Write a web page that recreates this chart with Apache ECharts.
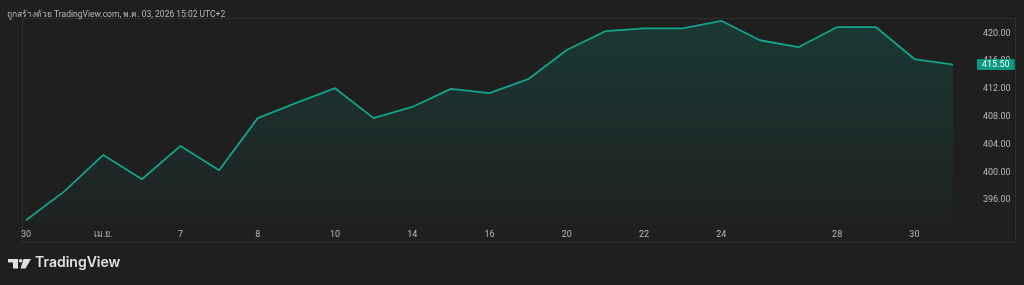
<!DOCTYPE html>
<html>
<head>
<meta charset="UTF-8">
<title>TradingView area</title>
<script type="text/javascript" src="https://cdn.jsdelivr.net/npm/echarts@6/dist/echarts.min.js"></script>
<style>
html,body{margin:0;padding:0;background:#1f1f1f;}
</style>
</head>
<body>
<div id="box" style="width:1024px;height:285px;"></div>

<script type="text/javascript">
// categories (only some carry a label, as on the original time axis)
var categories = ['30','','เม.ย.','','7','','8','','10','','14','','16','','20','','22','','24','','','28','','30',''];
// closing prices
var prices = [393.1,397.3,402.5,399.0,403.8,400.3,407.8,410.0,412.1,407.8,409.4,412.0,411.4,413.4,417.6,420.3,420.7,420.7,421.8,419.0,418.0,420.9,420.9,416.3,415.5];
// price scale labels
var priceTicks = [396,400,404,408,412,416,420];

var fontFam = 'Roboto, "Noto Sans", "DejaVu Sans", sans-serif';

var mychart = echarts.init(document.getElementById('box'));

mychart.setOption({
    backgroundColor:'#1f1f1f',
    animation:false,
    title:{
        text:'ถูกสร้างด้วย TradingView.com, พ.ค. 03, 2026 15:02 UTC+2',
        left:2,
        top:5,
        textStyle:{color:'#b8b8b8',fontSize:8.5,fontWeight:'normal',fontFamily:fontFam}
    },
    grid:{left:26,right:71,top:18,bottom:64},
    xAxis:{
        type:'category',
        data:categories,
        boundaryGap:false,
        axisLine:{show:false},
        axisTick:{show:false},
        splitLine:{show:false},
        axisLabel:{interval:0,color:'#b8b8b8',fontSize:9,margin:9,fontFamily:fontFam}
    },
    yAxis:{
        type:'value',
        position:'right',
        min:393,
        max:422.2,
        axisLine:{show:false},
        axisTick:{show:false},
        splitLine:{show:false},
        axisLabel:{
            customValues:priceTicks,
            color:'#b8b8b8',
            fontSize:9,
            margin:30,
            align:'left',
            fontFamily:fontFam,
            formatter:function(v){return v.toFixed(2);}
        }
    },
    series:[{
        type:'line',
        data:prices,
        symbol:'none',
        lineStyle:{color:'#12a38c',width:1.8},
        areaStyle:{
            color:new echarts.graphic.LinearGradient(0,0,0,1,[
                {offset:0,color:'rgba(8,153,129,0.3)'},
                {offset:1,color:'rgba(8,153,129,0.03)'}
            ])
        },
        endLabel:{
            show:true,
            distance:24,
            formatter:function(p){return p.value.toFixed(2);},
            color:'#ffffff',
            fontSize:9,
            fontFamily:fontFam,
            backgroundColor:'#089981',
            padding:[1,5,1,5],
            borderRadius:1
        }
    }],
    graphic:[
        // pane frame
        {type:'rect',shape:{x:22.5,y:18.5,width:993,height:224},style:{fill:'none',stroke:'#2e2e2e',lineWidth:1},silent:true,z:-1},
        // logo
        {type:'polygon',shape:{points:[[8,259],[18,259],[18,268.5],[13,268.5],[13,262.5],[8,262.5]]},style:{fill:'#e0e0e0'}},
        {type:'circle',shape:{cx:20.6,cy:260.8,r:1.8},style:{fill:'#e0e0e0'}},
        {type:'polygon',shape:{points:[[23.5,259],[31,259],[25.5,268.5],[20.5,268.5]]},style:{fill:'#e0e0e0'}},
        {type:'text',left:35,top:256,style:{text:'TradingView',fill:'#e0e0e0',fontSize:14,fontWeight:600,fontFamily:'Inter, Roboto, sans-serif'}}
    ]
});
</script>
</body>
</html>
